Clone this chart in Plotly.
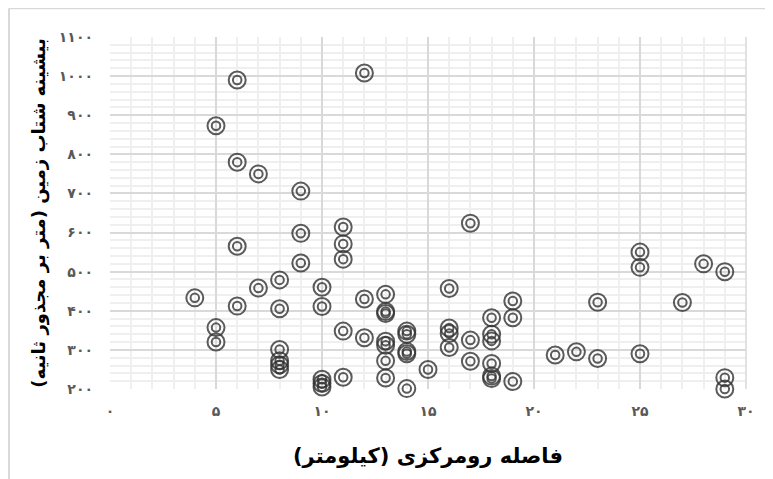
import plotly.graph_objects as go

# Data
distance_km = [6, 12, 5, 6, 7, 9, 11, 17, 9, 11, 6, 11, 9, 8, 25, 25, 28, 29,
               7, 10, 16, 4, 6, 8, 10, 12, 13, 19, 23, 27, 18, 19, 13, 13,
               5, 5, 11, 12, 13, 13, 13, 13, 14, 14, 14, 14, 14, 15, 16, 16, 16,
               17, 17, 18, 18, 18, 18, 18, 19, 8, 8, 8, 8, 10, 10, 10, 11,
               21, 22, 23, 25, 29, 29]
pga = [990, 1008, 873, 780, 750, 706, 614, 624, 598, 571, 565, 532, 522, 479, 550, 511, 520, 500,
       458, 460, 457, 433, 412, 405, 411, 430, 442, 425, 422, 421, 382, 382, 398, 393,
       357, 320, 348, 331, 322, 312, 272, 228, 348, 340, 296, 290, 201, 250, 356, 342, 306,
       325, 271, 340, 323, 265, 233, 227, 219, 301, 272, 262, 250, 225, 214, 205, 230,
       287, 295, 278, 290, 229, 200]

x_tickvals = [0, 5, 10, 15, 20, 25, 30]
x_ticktext = ["۰", "۵", "۱۰", "۱۵", "۲۰", "۲۵", "۳۰"]
y_tickvals = [200, 300, 400, 500, 600, 700, 800, 900, 1000, 1100]
y_ticktext = ["۲۰۰", "۳۰۰", "۴۰۰", "۵۰۰", "۶۰۰", "۷۰۰", "۸۰۰", "۹۰۰", "۱۰۰۰", "۱۱۰۰"]

x_title = "فاصله رومرکزی (کیلومتر)"
y_title = "بیشینه شتاب زمین (متر بر مجذور ثانیه)"

mark_color = "rgba(50,50,50,0.8)"
fig = go.Figure()
fig.add_trace(go.Scatter(x=distance_km, y=pga, mode="markers", cliponaxis=False,
                         marker=dict(symbol="circle-open", size=17, color=mark_color,
                                     line=dict(width=2, color=mark_color)),
                         hoverinfo="skip", showlegend=False))
fig.add_trace(go.Scatter(x=distance_km, y=pga, mode="markers", cliponaxis=False,
                         marker=dict(symbol="circle-open", size=8.5, color=mark_color,
                                     line=dict(width=2, color=mark_color)),
                         showlegend=False))

tick_font = dict(family="DejaVu Sans", size=14, color="#595959")
x_title_font = dict(family="DejaVu Sans", size=21, color="black")
y_title_font = dict(family="DejaVu Sans", size=18, color="black")

fig.update_layout(
    width=765, height=472,
    margin=dict(l=102, r=27, t=29, b=91),
    paper_bgcolor="white", plot_bgcolor="white",
    xaxis=dict(range=[0, 30], tickvals=x_tickvals, ticktext=["<b>" + t + "</b>" for t in x_ticktext],
               tickfont=tick_font, showgrid=True, gridcolor="#d9d9d9", gridwidth=1.5,
               zeroline=False, showline=False, ticks="", ticklabelstandoff=12,
               minor=dict(dtick=1, showgrid=True, gridcolor="#efefef", gridwidth=1.5),
               title=dict(text="<b>" + x_title + "</b>", font=x_title_font, standoff=30)),
    yaxis=dict(range=[200, 1100], tickvals=y_tickvals, ticktext=["<b>" + t + "</b>" for t in y_ticktext],
               tickfont=tick_font, showgrid=True, gridcolor="#d9d9d9", gridwidth=1.5,
               zeroline=False, showline=False, ticks="", ticklabelstandoff=16,
               minor=dict(dtick=20, showgrid=True, gridcolor="#efefef", gridwidth=1.5),
               title=dict(text="<b>" + y_title + "</b>", font=y_title_font, standoff=8)),
    shapes=[
        dict(type="line", xref="paper", yref="paper", x0=-0.1588, x1=1.1, y0=1.082, y1=1.082,
             line=dict(color="#d9d9d9", width=2)),
        dict(type="line", xref="paper", yref="paper", x0=-0.1588, x1=-0.1588, y0=1.082, y1=-0.3,
             line=dict(color="#d9d9d9", width=2)),
        dict(type="line", xref="paper", yref="paper", x0=1, x1=1, y0=0, y1=1,
             line=dict(color="#d9d9d9", width=1.5)),
    ],
)

fig.write_html("out.html")
